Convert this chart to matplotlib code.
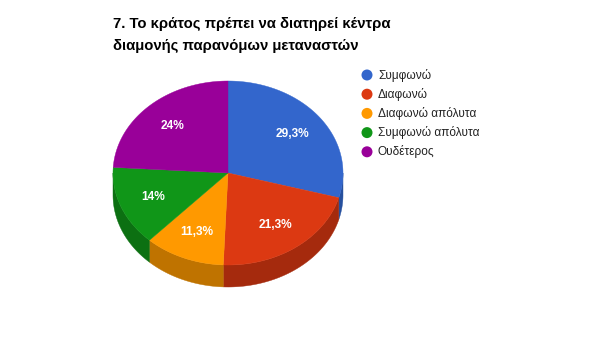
import numpy as np
import matplotlib
matplotlib.use('Agg')
import matplotlib.pyplot as plt
from matplotlib.patches import Polygon, Circle

# chart data
title_lines = ['7. Το κράτος πρέπει να διατηρεί κέντρα', 'διαμονής παρανόμων μεταναστών']
categories = ['Συμφωνώ', 'Διαφωνώ', 'Διαφωνώ απόλυτα', 'Συμφωνώ απόλυτα', 'Ουδέτερος']
values = [29.3, 21.3, 11.3, 14.0, 24.0]
labels = ['29,3%', '21,3%', '11,3%', '14%', '24%']
colors = ['#3366cc', '#dc3912', '#ff9900', '#109618', '#990099']
side_colors = ['#26509e', '#a52a0d', '#bf7300', '#0c7012', '#730073']

W, H = 589, 362
fig = plt.figure(figsize=(W / 100, H / 100), dpi=100)
ax = fig.add_axes((0, 0, 1, 1))
ax.set_xlim(0, W)
ax.set_ylim(H, 0)
ax.axis('off')

# pie geometry in pixels (tilted ellipse + depth)
cx, cy = 228, 173
rx, ry = 115, 92
depth = 22


def pt(a, r=1.0):
    # angle a in degrees, clockwise from 12 o'clock
    t = np.radians(a)
    return cx + r * rx * np.sin(t), cy - r * ry * np.cos(t)


tot = sum(values)
angles = np.concatenate([[0], np.cumsum(values) / tot * 360])

# sides (only the front half is visible)
for i in range(len(values)):
    a0 = max(angles[i], 90)
    a1 = min(angles[i + 1], 270)
    if a1 <= a0:
        continue
    arc = np.linspace(a0, a1, 60)
    top = [pt(a) for a in arc]
    bot = [(x, y + depth) for x, y in top[::-1]]
    ax.add_patch(Polygon(top + bot, closed=True, fc=side_colors[i], ec=side_colors[i], lw=0.3))

# top faces
for i in range(len(values)):
    arc = np.linspace(angles[i], angles[i + 1], 100)
    poly = [(cx, cy)] + [pt(a) for a in arc]
    ax.add_patch(Polygon(poly, closed=True, fc=colors[i], ec=colors[i], lw=0.3))
    mid = (angles[i] + angles[i + 1]) / 2
    lx, ly = pt(mid, 0.7)
    ax.text(lx, ly, labels[i], color='white', fontsize=8.6, fontweight='bold',
            family='Liberation Sans', ha='center', va='center')

# title
for k, line in enumerate(title_lines):
    ax.text(113, 24 + k * 22, line, fontsize=10.7, fontweight='bold', color='#000000',
            family='Liberation Sans', ha='left', va='center')

# legend
for k, cat in enumerate(categories):
    y = 75 + k * 19.2
    ax.add_patch(Circle((367, y), 5.5, fc=colors[k], ec='none'))
    ax.text(378, y, cat, fontsize=8.6, color='#222222', family='Liberation Sans',
            ha='left', va='center')

fig.savefig('out.png', dpi=100)
